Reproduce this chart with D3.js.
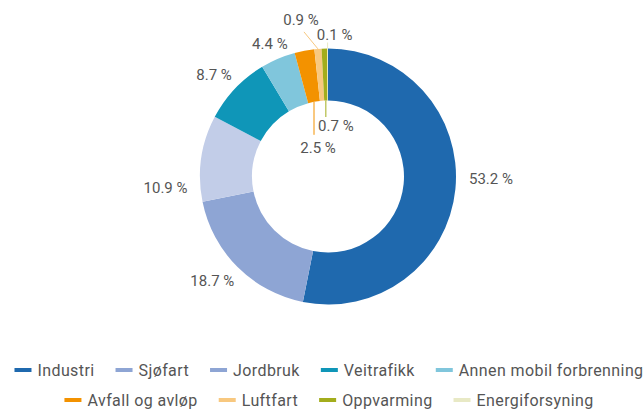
<!DOCTYPE html>
<html>
<head>
<meta charset="utf-8">
<script src="https://cdn.jsdelivr.net/npm/d3@7"></script>
<style>
  body { margin: 0; background: #fff; }
  svg { display: block; font-family: Roboto, "Noto Sans", sans-serif; }
  .slice-label { font-size: 15px; fill: #555; }
  .legend-label { font-size: 16px; fill: #555; letter-spacing: 0.4px; }
</style>
</head>
<body>
<div id="wrapper"></div>
<script>
// Data
const categories = ["Industri", "Sjøfart", "Jordbruk", "Veitrafikk", "Annen mobil forbrenning",
  "Avfall og avløp", "Luftfart", "Oppvarming", "Energiforsyning"];
const shares = [53.2, 18.7, 10.9, 8.7, 4.4, 2.5, 0.9, 0.7, 0.1];
const sliceColors = ["#1f69ae", "#8ea5d4", "#c2cde8", "#0f96b8", "#80c6dc",
  "#f39200", "#f8c87f", "#a3ad1c", "#e8e9c5"];
const legendColors = ["#1f69ae", "#8ea5d4", "#8ea5d4", "#0f96b8", "#80c6dc",
  "#f39200", "#f8c87f", "#a3ad1c", "#e8e9c5"];

// Label placement: outside labels get an angle nudge (degrees),
// small slices get a leader line instead
const labelLayout = [
  { nudge: -4.8 },
  { nudge: 3 },
  { nudge: -12.3 },
  { nudge: -1.7 },
  { nudge: -0.7 },
  { edge: "inner", line: [0, 33], text: [4, 13] },
  { edge: "outer", line: [-14, -17], text: [-3, -12] },
  { edge: "inner", line: [0, 16.5], text: [10, 9] },
  { edge: "outer", line: [0, -6], text: [7, -8] },
];

function drawChart() {
  const dimensions = {
    width: 643,
    height: 409,
    cx: 328,
    cy: 176.5,
    outerRadius: 128,
    innerRadius: 76,
  };

  const data = categories.map((c, i) => ({ name: c, value: shares[i], i }));

  const svg = d3.select("#wrapper")
    .append("svg")
    .attr("width", dimensions.width)
    .attr("height", dimensions.height);

  const pieGroup = svg.append("g")
    .attr("transform", `translate(${dimensions.cx},${dimensions.cy})`);

  const pie = d3.pie().value((d) => d.value).sort(null);
  const arcs = pie(data);
  const arc = d3.arc()
    .innerRadius(dimensions.innerRadius)
    .outerRadius(dimensions.outerRadius);

  pieGroup.selectAll(".slice")
    .data(arcs)
    .join("path")
    .attr("class", "slice")
    .attr("d", arc)
    .attr("fill", (d) => sliceColors[d.data.i]);

  // labels
  const fmt = (v) => `${d3.format(".1f")(v)} %`;
  arcs.forEach((d) => {
    const layout = labelLayout[d.data.i];
    const mid = (d.startAngle + d.endAngle) / 2;
    if (layout.edge) {
      const r = layout.edge === "inner" ? dimensions.innerRadius : dimensions.outerRadius;
      const x0 = r * Math.sin(mid);
      const y0 = -r * Math.cos(mid);
      const x1 = x0 + layout.line[0];
      const y1 = y0 + layout.line[1];
      pieGroup.append("line")
        .attr("x1", x0).attr("y1", y0)
        .attr("x2", x1).attr("y2", y1)
        .attr("stroke", sliceColors[d.data.i])
        .attr("stroke-width", 1);
      pieGroup.append("text")
        .attr("class", "slice-label")
        .attr("x", x1 + layout.text[0])
        .attr("y", y1 + layout.text[1])
        .attr("dy", "0.35em")
        .style("text-anchor", "middle")
        .text(fmt(d.data.value));
    } else {
      const a = mid + (layout.nudge * Math.PI) / 180;
      const label = pieGroup.append("text")
        .attr("class", "slice-label")
        .attr("dy", "0.35em")
        .style("text-anchor", "middle")
        .text(fmt(d.data.value));
      const w = label.node().getComputedTextLength();
      const dist = 135 + Math.abs(Math.sin(a)) * (w / 2 + 6);
      label
        .attr("x", dist * Math.sin(a))
        .attr("y", -dist * Math.cos(a));
    }
  });

  // legend, wrapped into centred rows
  const legend = svg.append("g").attr("class", "legend");
  const swatchW = 17;
  const swatchGap = 6;
  const itemGap = 21;
  const maxRowWidth = 635;
  const rowY = [370, 400];
  const legendCenter = 329;

  const items = data.map((d) => {
    const g = legend.append("g");
    g.append("rect")
      .attr("x", 0)
      .attr("y", -2)
      .attr("width", swatchW)
      .attr("height", 4)
      .attr("fill", legendColors[d.i]);
    const t = g.append("text")
      .attr("class", "legend-label")
      .attr("x", swatchW + swatchGap)
      .attr("dy", "0.35em")
      .text(d.name);
    return { g, width: swatchW + swatchGap + t.node().getComputedTextLength() };
  });

  const rows = [[]];
  let rowWidth = 0;
  items.forEach((item) => {
    const add = (rows[rows.length - 1].length ? itemGap : 0) + item.width;
    if (rowWidth + add > maxRowWidth && rows[rows.length - 1].length) {
      rows.push([item]);
      rowWidth = item.width;
    } else {
      rows[rows.length - 1].push(item);
      rowWidth += add;
    }
  });

  rows.forEach((row, ri) => {
    const total = d3.sum(row, (d) => d.width) + itemGap * (row.length - 1);
    let x = legendCenter - total / 2;
    row.forEach((item) => {
      item.g.attr("transform", `translate(${x},${rowY[ri]})`);
      x += item.width + itemGap;
    });
  });
}

drawChart();
</script>
</body>
</html>
